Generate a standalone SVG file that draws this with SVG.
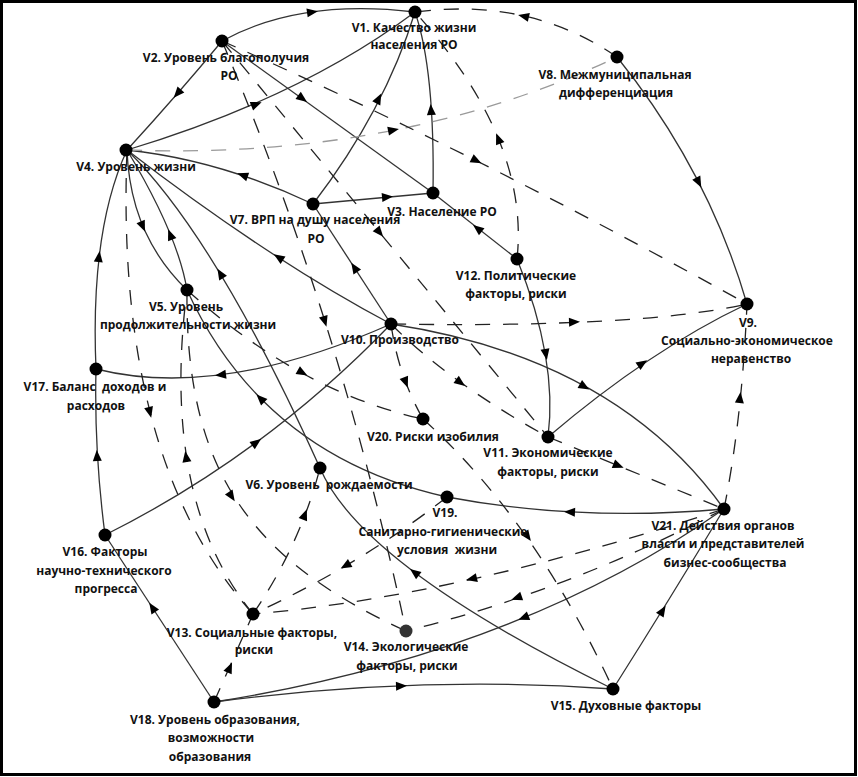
<svg xmlns="http://www.w3.org/2000/svg" xmlns:xlink="http://www.w3.org/1999/xlink" width="858" height="777" viewBox="0 0 858 777">
<style>
.s{fill:none;stroke:#333;stroke-width:1.3}
.d{fill:none;stroke:#222;stroke-width:1.3;stroke-dasharray:15 13}
.g{fill:none;stroke:#9a9a9a;stroke-width:1.3;stroke-dasharray:15 13}
.n{fill:#000}
.t{font-family:"Open Sans","Noto Sans","DejaVu Sans",sans-serif;font-weight:bold;font-size:12px;fill:#111;text-anchor:middle;white-space:pre}
</style>
<defs>
<path id="ah" d="M5,0 L-6,-4.5 L-6,4.5 Z" fill="#000"/>
</defs>
<rect x="1.5" y="1.5" width="854" height="773" fill="#fff" stroke="#000" stroke-width="3"/>
<g id="connectors">
<path class="s" d="M222,41 Q300,-2 415,12"/>
<path class="s" d="M222,41 Q180,92 127,150"/>
<path class="s" d="M127,150 Q300,98 415,12"/>
<path class="s" d="M222,41 L433,193"/>
<path class="s" d="M313,204 Q385,110 415,12"/>
<path class="s" d="M313,204 Q220,160 127,150"/>
<path class="s" d="M313,204 L433,193"/>
<path class="s" d="M433,193 Q435,70 415,12"/>
<path class="s" d="M517,259 L433,193"/>
<path class="s" d="M617,57 Q708,170 747,304"/>
<path class="s" d="M517,259 Q558,360 548,437"/>
<path class="s" d="M548,437 Q650,350 747,304"/>
<path class="s" d="M391,324 Q616,358 724,509"/>
<path class="s" d="M724,509 Q580,522 447,497"/>
<path class="s" d="M613,689 Q668,602 724,509"/>
<path class="s" d="M724,509 Q515,655 214,702"/>
<path class="s" d="M214,702 Q420,675 613,689"/>
<path class="s" d="M214,702 L105,535"/>
<path class="s" d="M105,535 Q94,450 96,369"/>
<path class="s" d="M96,369 Q90,230 127,150"/>
<path class="s" d="M391,324 Q220,400 96,369"/>
<path class="s" d="M105,535 Q265,455 391,324"/>
<path class="s" d="M127,150 Q130,235 187,290"/>
<path class="s" d="M187,290 Q178,235 127,150"/>
<path class="s" d="M320,468 Q216,237 127,150"/>
<path class="s" d="M613,689 Q361,565 320,468"/>
<path class="s" d="M447,497 Q263,456 187,290"/>
<path class="s" d="M391,324 L313,204"/>
<path class="s" d="M391,324 Q270,260 127,150"/>
<path class="d" d="M617,57 Q530,-3 415,12"/>
<path class="g" d="M127,150 Q400,160 617,57"/>
<path class="d" d="M222,41 Q470,150 747,304"/>
<path class="d" d="M517,259 Q530,140 415,12"/>
<path class="d" d="M222,41 Q340,320 406,631"/>
<path class="d" d="M222,41 L548,437"/>
<path class="d" d="M391,324 Q640,328 747,304"/>
<path class="d" d="M391,324 Q398,375 423,419"/>
<path class="d" d="M391,324 Q450,383 548,437"/>
<path class="d" d="M724,509 Q742,420 747,304"/>
<path class="d" d="M548,437 L724,509"/>
<path class="d" d="M724,509 Q455,597 253,614"/>
<path class="d" d="M724,509 Q570,590 406,631"/>
<path class="d" d="M423,419 Q535,520 613,689"/>
<path class="d" d="M187,290 Q300,392 423,419"/>
<path class="d" d="M127,150 Q115,460 253,614"/>
<path class="d" d="M253,614 Q160,500 187,290"/>
<path class="d" d="M187,290 C185,470 250,560 406,631"/>
<path class="d" d="M253,614 Q300,545 320,468"/>
<path class="d" d="M447,497 Q360,565 253,614"/>
<path class="d" d="M214,702 L253,614"/>
<g id="arrows">
<use xlink:href="#ah" transform="translate(313,12) rotate(-8)"/>
<use xlink:href="#ah" transform="translate(177,94) rotate(131)"/>
<use xlink:href="#ah" transform="translate(257,104) rotate(-22)"/>
<use xlink:href="#ah" transform="translate(303,99) rotate(36)"/>
<use xlink:href="#ah" transform="translate(379,98) rotate(-63)"/>
<use xlink:href="#ah" transform="translate(242,175) rotate(-161)"/>
<use xlink:href="#ah" transform="translate(388,197) rotate(-5)"/>
<use xlink:href="#ah" transform="translate(431,109) rotate(-94)"/>
<use xlink:href="#ah" transform="translate(477,228) rotate(-142)"/>
<use xlink:href="#ah" transform="translate(699,183) rotate(63)"/>
<use xlink:href="#ah" transform="translate(546,355) rotate(80)"/>
<use xlink:href="#ah" transform="translate(643,363) rotate(-34)"/>
<use xlink:href="#ah" transform="translate(585,387) rotate(30)"/>
<use xlink:href="#ah" transform="translate(569,512) rotate(183)"/>
<use xlink:href="#ah" transform="translate(663,610) rotate(-58)"/>
<use xlink:href="#ah" transform="translate(523,618) rotate(158)"/>
<use xlink:href="#ah" transform="translate(402,686) rotate(-2)"/>
<use xlink:href="#ah" transform="translate(152,607) rotate(-123)"/>
<use xlink:href="#ah" transform="translate(97,455) rotate(-93)"/>
<use xlink:href="#ah" transform="translate(99,256) rotate(-83)"/>
<use xlink:href="#ah" transform="translate(220,375) rotate(173)"/>
<use xlink:href="#ah" transform="translate(257,442) rotate(-36)"/>
<use xlink:href="#ah" transform="translate(143,227) rotate(67)"/>
<use xlink:href="#ah" transform="translate(170,234) rotate(-112)"/>
<use xlink:href="#ah" transform="translate(220,273) rotate(-121)"/>
<use xlink:href="#ah" transform="translate(414,572) rotate(-143)"/>
<use xlink:href="#ah" transform="translate(260,398) rotate(-135)"/>
<use xlink:href="#ah" transform="translate(354,267) rotate(-123)"/>
<use xlink:href="#ah" transform="translate(278,257) rotate(-147)"/>
<use xlink:href="#ah" transform="translate(523,16) rotate(-167)"/>
<use xlink:href="#ah" transform="translate(394,130) rotate(-11)"/>
<use xlink:href="#ah" transform="translate(477,161) rotate(27)"/>
<use xlink:href="#ah" transform="translate(498,138) rotate(-112)"/>
<use xlink:href="#ah" transform="translate(325,322) rotate(73)"/>
<use xlink:href="#ah" transform="translate(380,233) rotate(50)"/>
<use xlink:href="#ah" transform="translate(575,322) rotate(-2)"/>
<use xlink:href="#ah" transform="translate(406,383) rotate(69)"/>
<use xlink:href="#ah" transform="translate(461,383) rotate(36)"/>
<use xlink:href="#ah" transform="translate(740,397) rotate(-84)"/>
<use xlink:href="#ah" transform="translate(619,466) rotate(22)"/>
<use xlink:href="#ah" transform="translate(471,579) rotate(167)"/>
<use xlink:href="#ah" transform="translate(516,598) rotate(161)"/>
<use xlink:href="#ah" transform="translate(528,537) rotate(55)"/>
<use xlink:href="#ah" transform="translate(303,373) rotate(29)"/>
<use xlink:href="#ah" transform="translate(150,413) rotate(76)"/>
<use xlink:href="#ah" transform="translate(186,456) rotate(-99)"/>
<use xlink:href="#ah" transform="translate(232,497) rotate(57)"/>
<use xlink:href="#ah" transform="translate(305,514) rotate(-69)"/>
<use xlink:href="#ah" transform="translate(345,566) rotate(150)"/>
<use xlink:href="#ah" transform="translate(230,667) rotate(-66)"/>
</g>
</g>
<g id="nodes">
<g id="V1"><circle class="n" cx="415" cy="12" r="6.5"/><text class="t" x="414" y="32">V1. Качество жизни</text><text class="t" x="414" y="49">населения РО</text></g>
<g id="V2"><circle class="n" cx="222" cy="41" r="6.5"/><text class="t" x="226" y="62">V2. Уровень благополучия</text><text class="t" x="229" y="80">РО</text></g>
<g id="V3"><circle class="n" cx="433" cy="193" r="6.5"/><text class="t" x="442" y="216">V3. Население РО</text></g>
<g id="V4"><circle class="n" cx="126" cy="150" r="6.5"/><text class="t" x="136" y="171">V4. Уровень жизни</text></g>
<g id="V5"><circle class="n" cx="187" cy="290" r="6.5"/><text class="t" x="186" y="311">V5. Уровень</text><text class="t" x="188" y="329">продолжительности жизни</text></g>
<g id="V6"><circle class="n" cx="320" cy="468" r="6.5"/><text class="t" x="329" y="489" xml:space="preserve">V6. Уровень  рождаемости</text></g>
<g id="V7"><circle class="n" cx="313" cy="204" r="6.5"/><text class="t" x="315" y="224">V7. ВРП на душу населения</text><text class="t" x="316" y="243">РО</text></g>
<g id="V8"><circle class="n" cx="617" cy="57" r="6.5"/><text class="t" x="615" y="79">V8. Межмуниципальная</text><text class="t" x="616" y="97">дифференциация</text></g>
<g id="V9"><circle class="n" cx="747" cy="304" r="6.5"/><text class="t" x="748" y="327">V9.</text><text class="t" x="747" y="345">Социально-экономическое</text><text class="t" x="751" y="363">неравенство</text></g>
<g id="V10"><circle class="n" cx="391" cy="324" r="6.5"/><text class="t" x="400" y="344">V10. Производство</text></g>
<g id="V11"><circle class="n" cx="548" cy="437" r="6.5"/><text class="t" x="548" y="457">V11. Экономические</text><text class="t" x="548" y="476">факторы, риски</text></g>
<g id="V12"><circle class="n" cx="517" cy="259" r="6.5"/><text class="t" x="516" y="280">V12. Политические</text><text class="t" x="516" y="298">факторы, риски</text></g>
<g id="V13"><circle class="n" cx="253" cy="614" r="6.5"/><text class="t" x="252" y="637">V13. Социальные факторы,</text><text class="t" x="254" y="654">риски</text></g>
<g id="V14"><circle cx="406" cy="631" r="6.5" fill="#333"/><text class="t" x="406" y="651">V14. Экологические</text><text class="t" x="407" y="670">факторы, риски</text></g>
<g id="V15"><circle class="n" cx="613" cy="689" r="6.5"/><text class="t" x="626" y="710">V15. Духовные факторы</text></g>
<g id="V16"><circle class="n" cx="105" cy="535" r="6.5"/><text class="t" x="105" y="556">V16. Факторы</text><text class="t" x="104" y="575">научно-технического</text><text class="t" x="106" y="593">прогресса</text></g>
<g id="V17"><circle class="n" cx="96" cy="369" r="6.5"/><text class="t" x="95" y="391" xml:space="preserve">V17. Баланс  доходов и</text><text class="t" x="96" y="410">расходов</text></g>
<g id="V18"><circle class="n" cx="214" cy="702" r="6.5"/><text class="t" x="215" y="724">V18. Уровень образования,</text><text class="t" x="211" y="742">возможности</text><text class="t" x="210" y="761">образования</text></g>
<g id="V19"><circle class="n" cx="447" cy="497" r="6.5"/><text class="t" x="445" y="517">V19.</text><text class="t" x="443" y="536">Санитарно-гигиенические</text><text class="t" x="447" y="554" xml:space="preserve">условия  жизни</text></g>
<g id="V20"><circle class="n" cx="423" cy="419" r="6.5"/><text class="t" x="433" y="441">V20. Риски изобилия</text></g>
<g id="V21"><circle class="n" cx="724" cy="509" r="6.5"/><text class="t" x="723" y="530">V21. Действия органов</text><text class="t" x="723" y="548">власти и представителей</text><text class="t" x="725" y="567">бизнес-сообщества</text></g>
</g>
</svg>
